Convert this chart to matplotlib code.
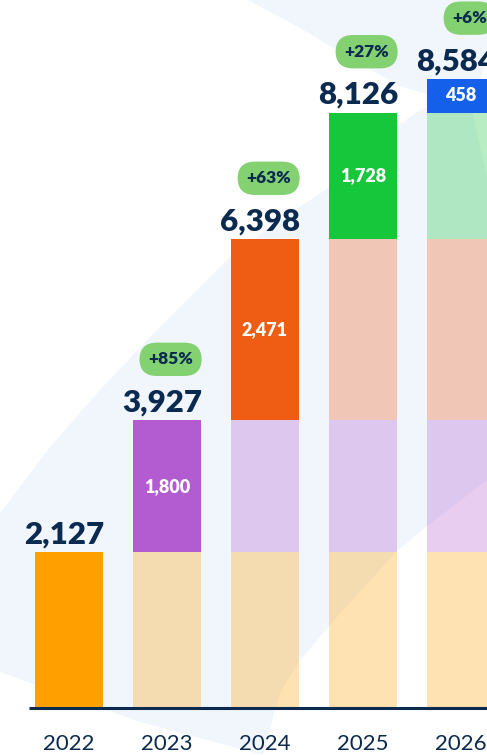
import matplotlib
matplotlib.use('Agg')
import matplotlib.pyplot as plt
from matplotlib.patches import Polygon
import numpy as np

# ---------------- data ----------------
years = ['2022', '2023', '2024', '2025', '2026']
increments = [2127, 1800, 2471, 1728, 458]
totals = [2127, 3927, 6398, 8126, 8584]
growth_labels = [None, '+85%', '+63%', '+27%', '+6%']
segment_colors = ['#FFA000', '#B35BD0', '#EF5C14', '#16C63B', '#1560EA']

# ---------------- style ----------------
NAVY = '#0B2A4F'
BADGE = '#84D172'
BG_BLUE = '#F1F6FD'
FONT = ['Lato', 'DejaVu Sans']
plt.rcParams['font.family'] = FONT

W, H = 487, 755
fig = plt.figure(figsize=(W / 100, H / 100), dpi=100)
fig.patch.set_facecolor('white')

# decorative background shapes (pixel coordinates)
bg = fig.add_axes([0, 0, 1, 1], zorder=0)
bg.set_xlim(0, W)
bg.set_ylim(H, 0)
bg.axis('off')
bg.add_patch(Polygon([(0, 0), (W, 0), (W, H), (0, H)], closed=True,
                     facecolor=BG_BLUE, edgecolor='none'))
white_shapes = [
    [(0, 0), (248, 0), (300, 28), (350, 58), (400, 86), (445, 100),
     (420, 110), (380, 138), (328, 188), (280, 220), (230, 257), (200, 287),
     (150, 337), (100, 390), (50, 447), (10, 500), (0, 513)],
    [(0, 672), (140, 722), (263, 755), (0, 755)],
    [(263, 755), (280, 693), (298, 663), (328, 627), (396, 552), (426, 527),
     (487, 480), (487, 755)],
    [(487, 55), (472, 110), (487, 178)],
]
for pts in white_shapes:
    bg.add_patch(Polygon(pts, closed=True, facecolor='white', edgecolor='none'))

# ---------------- main axes ----------------
px_per_unit = 0.07326
base_px = 708
ax = fig.add_axes([0, (H - base_px) / H, 1, base_px / H], zorder=1)
ax.patch.set_alpha(0)
spacing_px = 98
first_center_px = 69
ax.set_xlim(-first_center_px / spacing_px, (W - first_center_px) / spacing_px)
ax.set_ylim(0, base_px / px_per_unit)
for s in ax.spines.values():
    s.set_visible(False)
ax.set_yticks([])
ax.set_xticks([])

bar_w = 68 / spacing_px
x = np.arange(len(years))
starts = np.concatenate([[0], np.cumsum(increments)[:-1]])

for i in range(len(years)):
    for j in range(i + 1):
        ax.bar(x[i], increments[j], bottom=starts[j], width=bar_w,
               color=segment_colors[j], alpha=1.0 if j == i else 0.3,
               linewidth=0, zorder=2)
    # inner label for new segment (not for first year)
    if i > 0:
        ax.text(x[i], starts[i] + increments[i] / 2, f'{increments[i]:,}',
                ha='center', va='center', color='white', fontsize=13,
                fontweight='heavy', zorder=4)
    # total label
    right = x[i] + bar_w / 2
    ax.annotate(f'{totals[i]:,}', xy=(right, totals[i]),
                xytext=(1, 9), textcoords='offset pixels',
                ha='right', va='baseline', color=NAVY, fontsize=22.5,
                fontweight='heavy', zorder=5, annotation_clip=False)
    if growth_labels[i]:
        ax.annotate(growth_labels[i], xy=(right, totals[i]),
                    xytext=(-8, 61), textcoords='offset pixels',
                    ha='right', va='center', color=NAVY, fontsize=12.5,
                    fontweight='heavy', zorder=5, annotation_clip=False,
                    bbox=dict(boxstyle='round,pad=0.5,rounding_size=1.0',
                              facecolor=BADGE, edgecolor='none'))

# baseline axis line
ax.hlines(0, (29 - first_center_px) / spacing_px, len(years), color=NAVY,
          linewidth=2.2, zorder=6, clip_on=False)

# year labels
for i, yr in enumerate(years):
    ax.annotate(yr, xy=(x[i], 0), xytext=(0, -36), textcoords='offset pixels',
                ha='center', va='center', color=NAVY, fontsize=16,
                annotation_clip=False)

fig.savefig('out.png', dpi=100, facecolor='white')
